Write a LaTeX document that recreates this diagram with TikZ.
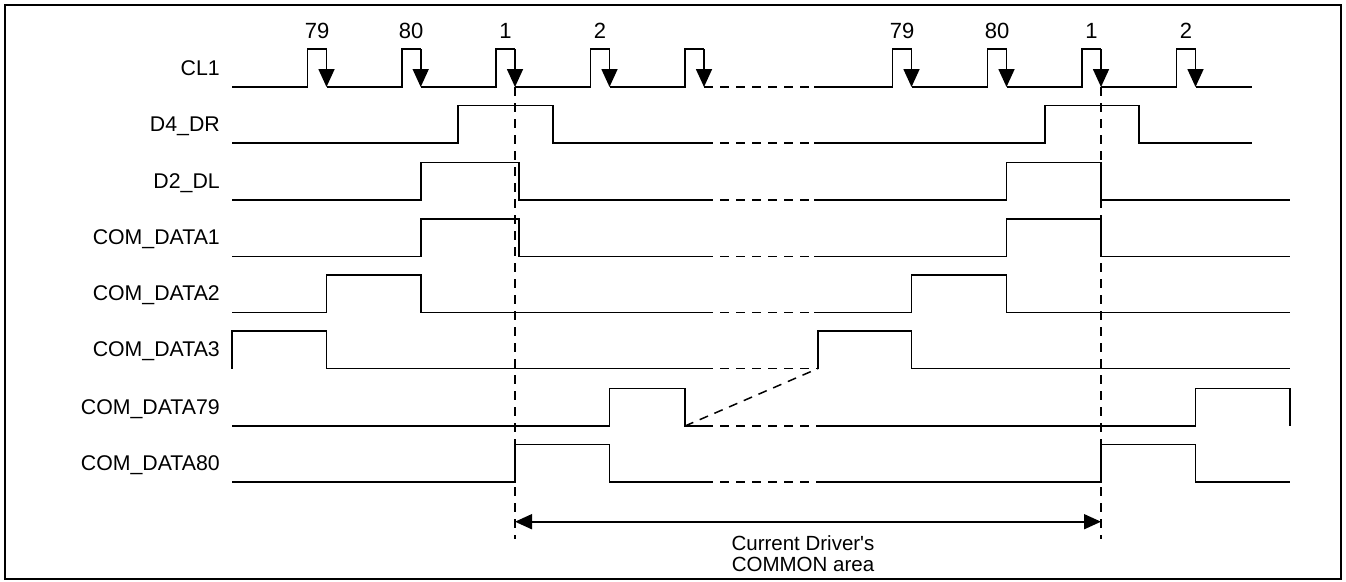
\documentclass[tikz,border=0pt]{standalone}
\usepackage{fontspec}
\setmainfont{Liberation Sans}
\usetikzlibrary{arrows.meta}
\begin{document}
\begin{tikzpicture}[x=1pt,y=-1pt,
  sig/.style={line width=1.7pt, line join=miter},
  dsh/.style={line width=1.5pt, dash pattern=on 9pt off 7pt},
  clk/.style={line width=1.7pt, -{Triangle[width=16pt,length=18pt]}},
  lbl/.style={anchor=base east, inner sep=0pt, font=\fontsize{21.3}{25}\selectfont},
  num/.style={anchor=base, inner sep=0pt, font=\fontsize{22}{26}\selectfont},
  note/.style={anchor=base, inner sep=0pt, font=\fontsize{20.5}{24}\selectfont}]
\useasboundingbox (0,0) rectangle (1346,581);
\draw[line width=1.5pt] (5,5) rectangle (1341,579);

% labels
\node[lbl] (lCL) at (220,75) {CL1};
\node[lbl] (lD4) at (220,131) {D4\_DR};
\node[lbl] (lD2) at (220,188) {D2\_DL};
\node[lbl] (lC1) at (220,244.5) {COM\_DATA1};
\node[lbl] (lC2) at (220,300.5) {COM\_DATA2};
\node[lbl] (lC3) at (220,356.5) {COM\_DATA3};
\node[lbl] (lC79) at (220,414) {COM\_DATA79};
\node[lbl] (lC80) at (220,470) {COM\_DATA80};

% pulse numbers
\node[num] (n1) at (317,38) {79};
\node[num] (n2) at (411.2,38) {80};
\node[num] (n3) at (505.5,38) {1};
\node[num] (n4) at (600,38) {2};
\node[num] (n5) at (902,38) {79};
\node[num] (n6) at (997,38) {80};
\node[num] (n7) at (1091.5,38) {1};
\node[num] (n8) at (1186,38) {2};

% CL1
\draw[sig] (232,87) -- (307.5,87) -- (307.5,49) -- (326.5,49)
  (326.5,87) -- (401.7,87) -- (401.7,49) -- (420.7,49)
  (420.7,87) -- (496,87) -- (496,49) -- (515,49)
  (515,87) -- (590.5,87) -- (590.5,49) -- (609.5,49)
  (609.5,87) -- (685,87) -- (685,49) -- (704,49);
\draw[dsh] (704,87) -- (814,87);
\draw[sig] (814,87) -- (892.5,87) -- (892.5,49) -- (911.5,49)
  (911.5,87) -- (987.5,87) -- (987.5,49) -- (1006.5,49)
  (1006.5,87) -- (1082,87) -- (1082,49) -- (1101,49)
  (1101,87) -- (1176.5,87) -- (1176.5,49) -- (1195.5,49)
  (1195.5,87) -- (1252,87);
\foreach \f in {326.5,420.7,515,609.5,704,911.5,1006.5,1101,1195.5}
  \draw[clk] (\f,49) -- (\f,87);

% D4_DR
\draw[sig] (232,143) -- (458,143) -- (458,105.5) -- (553.3,105.5) -- (553.3,143) -- (704,143);
\draw[dsh] (704,143) -- (814,143);
\draw[sig] (814,143) -- (1045,143) -- (1045,105.5) -- (1138.7,105.5) -- (1138.7,143) -- (1252,143);

% D2_DL
\draw[sig] (232,200) -- (420.7,200) -- (420.7,162.5) -- (519,162.5) -- (519,200) -- (704,200);
\draw[dsh] (704,200) -- (814,200);
\draw[sig] (814,200) -- (1006.5,200) -- (1006.5,162.5) -- (1101,162.5) -- (1101,200) -- (1290,200);

% COM_DATA1
\draw[sig] (232,256.5) -- (420.7,256.5) -- (420.7,219) -- (519,219) -- (519,256.5) -- (704,256.5);
\draw[dsh] (704,256.5) -- (814,256.5);
\draw[sig] (814,256.5) -- (1006.5,256.5) -- (1006.5,219) -- (1101,219) -- (1101,256.5) -- (1290,256.5);

% COM_DATA2
\draw[sig] (232,312.5) -- (326.5,312.5) -- (326.5,275) -- (420.7,275) -- (420.7,312.5) -- (704,312.5);
\draw[dsh] (704,312.5) -- (814,312.5);
\draw[sig] (814,312.5) -- (911.5,312.5) -- (911.5,275) -- (1006.5,275) -- (1006.5,312.5) -- (1290,312.5);

% COM_DATA3
\draw[sig] (232,368.5) -- (232,331) -- (326.5,331) -- (326.5,368.5) -- (704,368.5);
\draw[dsh] (704,368.5) -- (818,368.5);
\draw[sig] (818,368.5) -- (818,331) -- (911.5,331) -- (911.5,368.5) -- (1290,368.5);

% COM_DATA79
\draw[sig] (232,426) -- (609.5,426) -- (609.5,388.5) -- (685,388.5) -- (685,426) -- (704,426);
\draw[dsh] (704,426) -- (818,426);
\draw[sig] (818,426) -- (1195.5,426) -- (1195.5,388.5) -- (1290,388.5) -- (1290,426);
\draw[dsh] (685,426) -- (818,368.5);

% COM_DATA80
\draw[sig] (232,482) -- (515,482) -- (515,444.5) -- (609.5,444.5) -- (609.5,482) -- (704,482);
\draw[dsh] (704,482) -- (818,482);
\draw[sig] (818,482) -- (1101,482) -- (1101,444.5) -- (1195.5,444.5) -- (1195.5,482) -- (1290,482);

% vertical markers
\coordinate (vLt) at (515,87);
\coordinate (vLb) at (515,539);
\coordinate (vRt) at (1101,87);
\coordinate (vRb) at (1101,539);
\draw[dsh] (vLt) -- (vLb);
\draw[dsh] (vRt) -- (vRb);

% area arrow
\coordinate (aL) at (515,521.7);
\coordinate (aR) at (1101,521.7);
\draw[line width=1.7pt, {Triangle[width=15pt,length=17pt]}-{Triangle[width=15pt,length=17pt]}] (aL) -- (aR);
\node[note] (t1) at (803,550) {Current Driver\textquotesingle s};
\node[note] (t2) at (803,571) {COMMON area};
\end{tikzpicture}
\end{document}
